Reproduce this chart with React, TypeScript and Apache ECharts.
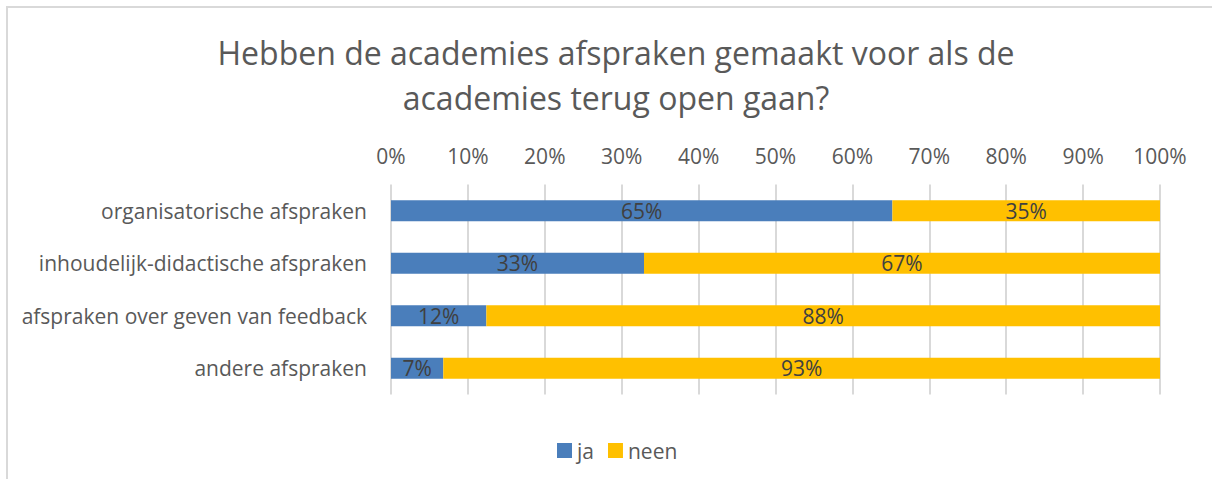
import React, { useEffect, useRef } from "react";
import * as echarts from "echarts";

const categories = [
  "organisatorische afspraken",
  "inhoudelijk-didactische afspraken",
  "afspraken over geven van feedback",
  "andere afspraken",
];
const jaValues = [65.2, 32.9, 12.4, 6.8];
const neenValues = [34.8, 67.1, 87.6, 93.2];
const seriesNames = ["ja", "neen"];
const xTicks = [0, 10, 20, 30, 40, 50, 60, 70, 80, 90, 100];

const FONT = "'Open Sans', sans-serif";

export default function App() {
  const ref = useRef<HTMLDivElement>(null);
  useEffect(() => {
    if (!ref.current) return;
    const chart = echarts.init(ref.current, null, { renderer: "svg" });
    const labelCfg = {
      show: true,
      position: "inside",
      color: "#404040",
      fontSize: 21,
      fontFamily: FONT,
      formatter: (p: any) => Math.round(p.value) + "%",
    };
    chart.setOption({
      animation: false,
      backgroundColor: "#ffffff",
      textStyle: { fontFamily: FONT },
      title: {
        text: "Hebben de academies afspraken gemaakt voor als de\nacademies terug open gaan?",
        left: 611,
        textAlign: "center",
        top: 25,
        textStyle: {
          fontFamily: FONT,
          fontSize: 32,
          fontWeight: "normal",
          color: "#595959",
          lineHeight: 45,
        },
      },
      graphic: [
        {
          type: "rect",
          shape: { x: 7, y: 7, width: 1230, height: 500 },
          style: { fill: "none", stroke: "#d9d9d9", lineWidth: 2 },
          silent: true,
        },
      ],
      legend: {
        data: seriesNames,
        left: 552,
        top: 435,
        itemWidth: 15,
        itemHeight: 15,
        itemGap: 14,
        icon: "rect",
        textStyle: { fontFamily: FONT, fontSize: 21, color: "#595959" },
      },
      grid: { left: 391, right: 52, top: 184.5, bottom: 84.5 },
      xAxis: {
        type: "value",
        position: "top",
        min: 0,
        max: 100,
        interval: 10,
        axisLine: { show: false },
        axisTick: { show: false },
        axisLabel: {
          fontFamily: FONT,
          fontSize: 21,
          color: "#595959",
          margin: 18,
          formatter: (v: number) => (xTicks.includes(v) ? v + "%" : ""),
        },
        splitLine: { show: true, lineStyle: { color: "#d9d9d9", width: 2 } },
      },
      yAxis: {
        type: "category",
        inverse: true,
        data: categories,
        axisLine: { show: false },
        axisTick: { show: false },
        axisLabel: { fontFamily: FONT, fontSize: 21, color: "#595959", margin: 24 },
      },
      series: [
        {
          name: seriesNames[0],
          type: "bar",
          stack: "total",
          data: jaValues,
          barWidth: "40%",
          itemStyle: { color: "#4a7ebb" },
          label: labelCfg,
        },
        {
          name: seriesNames[1],
          type: "bar",
          stack: "total",
          data: neenValues,
          barWidth: "40%",
          itemStyle: { color: "#ffc000" },
          label: labelCfg,
        },
      ],
    });
    return () => chart.dispose();
  }, []);
  return (
    <div
      ref={ref}
      style={{ position: "fixed", left: 0, top: 0, width: 1212, height: 479 }}
    />
  );
}
